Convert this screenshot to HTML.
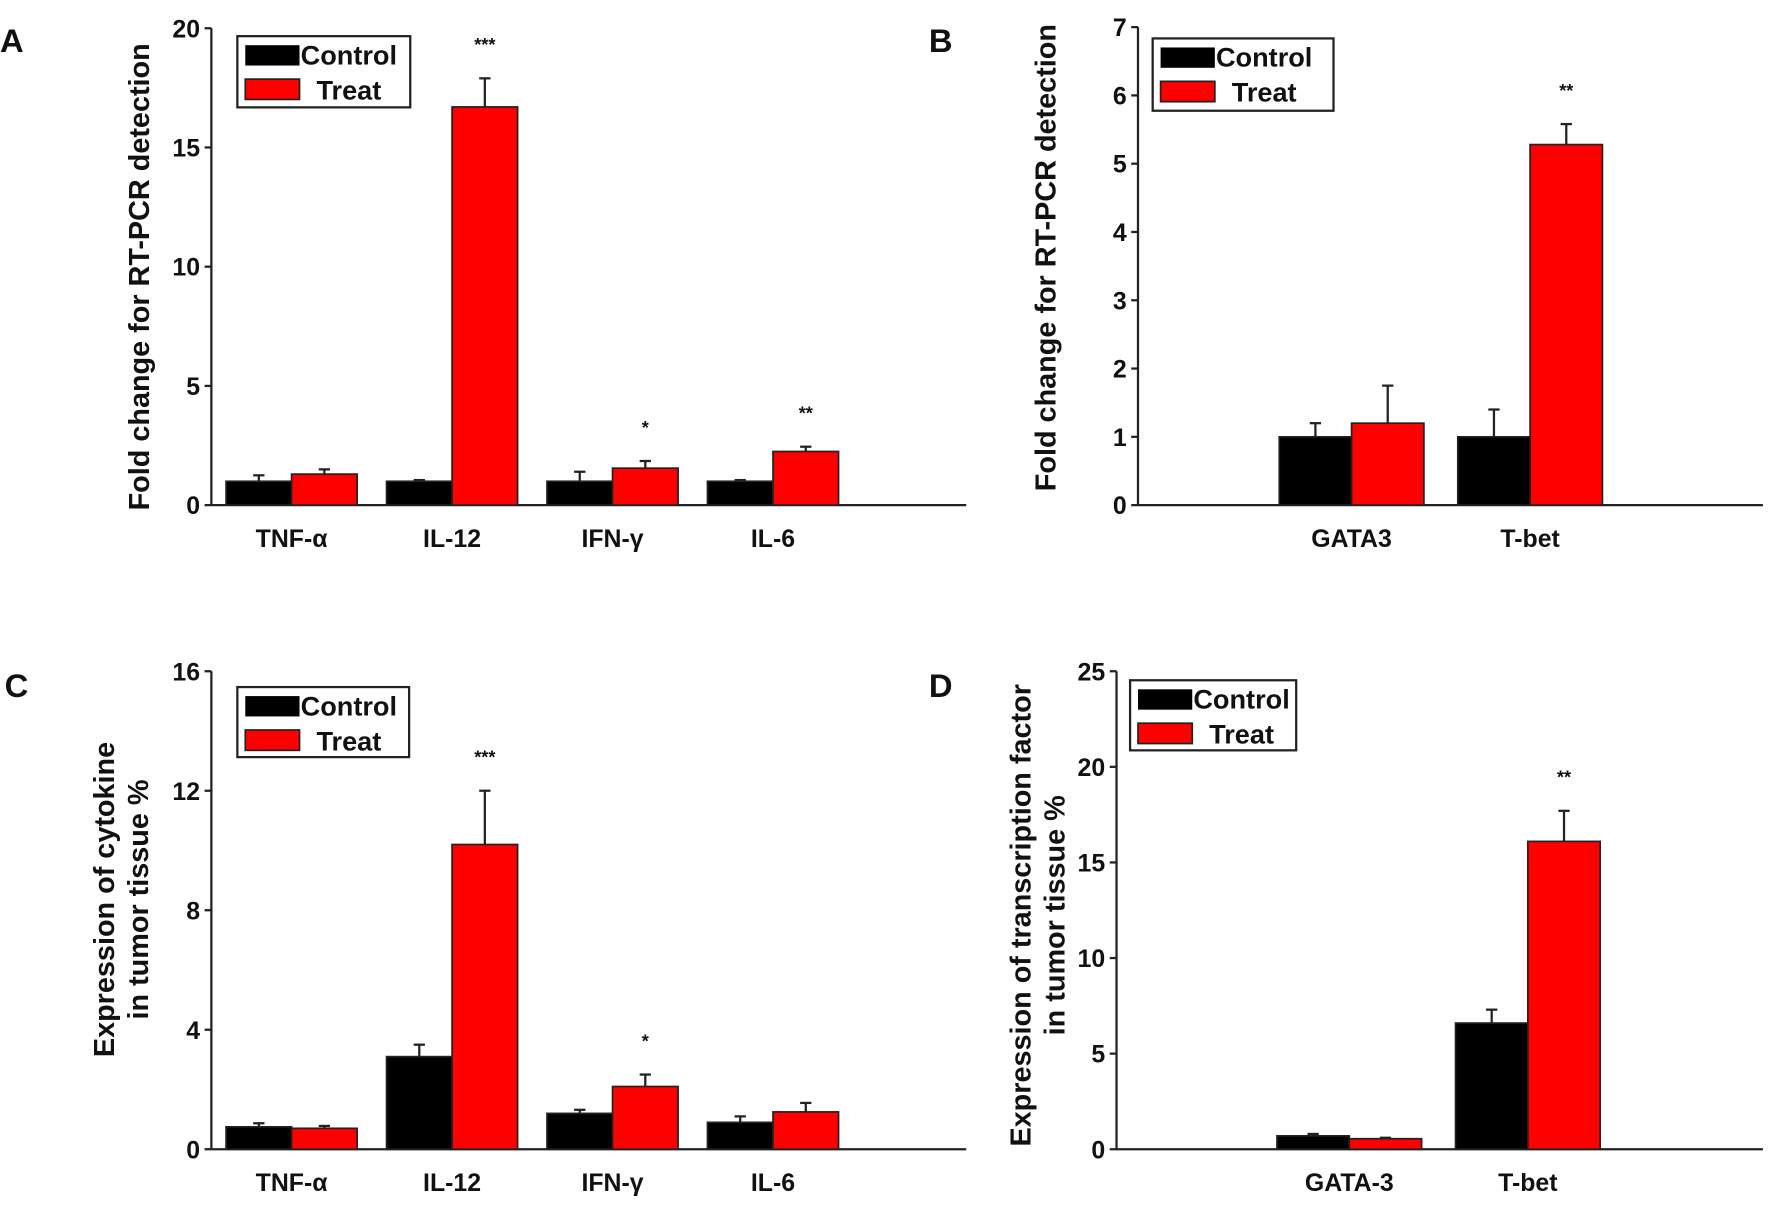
<!DOCTYPE html>
<html><head><meta charset="utf-8"><style>
html,body{margin:0;padding:0;background:#fff;}
svg{display:block;}
text{font-family:"Liberation Sans",Arial,sans-serif;font-weight:bold;fill:#111;}
</style></head><body>
<svg id="fig" width="1772" height="1208" viewBox="0 0 1568 1069" xmlns="http://www.w3.org/2000/svg"></svg>
<script>
// Panel A
const catsA = ["TNF-α","IL-12","IFN-γ","IL-6"];
const ctrlA = [1.0,1.0,1.0,1.0];
const ctrlErrA = [0.25,0.05,0.4,0.05];
const treatA = [1.3,16.7,1.55,2.25];
const treatErrA = [0.2,1.2,0.3,0.2];
const sigA = ["","***","*","**"];
const ticksA = [0,5,10,15,20];
// Panel B
const catsB = ["GATA3","T-bet"];
const ctrlB = [1.0,1.0];
const ctrlErrB = [0.2,0.4];
const treatB = [1.2,5.28];
const treatErrB = [0.55,0.3];
const sigB = ["","**"];
const ticksB = [0,1,2,3,4,5,6,7];
// Panel C
const catsC = ["TNF-α","IL-12","IFN-γ","IL-6"];
const ctrlC = [0.75,3.1,1.2,0.9];
const ctrlErrC = [0.12,0.4,0.12,0.2];
const treatC = [0.7,10.2,2.1,1.25];
const treatErrC = [0.08,1.8,0.4,0.3];
const sigC = ["","***","*",""];
const ticksC = [0,4,8,12,16];
// Panel D
const catsD = ["GATA-3","T-bet"];
const ctrlD = [0.7,6.6];
const ctrlErrD = [0.1,0.7];
const treatD = [0.55,16.1];
const treatErrD = [0.05,1.6];
const sigD = ["","**"];
const ticksD = [0,5,10,15,20,25];

const NS="http://www.w3.org/2000/svg";
const svg=document.getElementById('fig');
function mk(tag,attrs,parent,txt){const e=document.createElementNS(NS,tag);for(const k in attrs)e.setAttribute(k,attrs[k]);if(txt!==undefined)e.textContent=txt;(parent||svg).appendChild(e);return e;}

function panel(p){
  const g=mk('g',{});
  
  
  const ymax=p.ticks[p.ticks.length-1];
  const y=v=>p.y0-(v/ymax)*(p.y0-p.yTop);
  const lt=mk('text',{x:p.letter[0],y:p.letter[1],'font-size':29},g,p.id);
  
  
  const ya=mk('line',{x1:p.ax,y1:p.yTop,x2:p.ax,y2:p.y0,stroke:'#222','stroke-width':2},g);
  
  
  const xa=mk('line',{x1:p.ax,y1:p.y0,x2:p.xEnd,y2:p.y0,stroke:'#222','stroke-width':2},g);
  
  
  p.ticks.forEach(t=>{
    const tk=mk('line',{x1:p.ax-6,y1:y(t),x2:p.ax,y2:y(t),stroke:'#222','stroke-width':2},g);
    
    
    const tl=mk('text',{x:p.ax-10,y:y(t)+8,'font-size':22,'text-anchor':'end'},g,String(t));
    
    
  });
  p.cats.forEach((c,i)=>{
    const xc=p.x0+i*p.step;
    [[p.ctrl,p.ctrlErr,'#000',xc],[p.treat,p.treatErr,'#ff0000',xc+p.bw]].forEach(([vals,errs,col,bx],k)=>{
      const v=vals[i],e=errs[i];
      const ex=bx+p.bw/2;
      const el=mk('line',{x1:ex,y1:y(v),x2:ex,y2:y(v+e),stroke:'#222','stroke-width':2},g);
      
      
      const ec=mk('line',{x1:ex-5,y1:y(v+e),x2:ex+5,y2:y(v+e),stroke:'#222','stroke-width':2},g);
      
      
      const r=mk('rect',{x:bx,y:y(v),width:p.bw,height:p.y0-y(v),fill:col,stroke:'#222','stroke-width':1.5},g);
      
      
    });
    if(p.sig[i]){
      const top=p.treat[i]+p.treatErr[i];
      const s=mk('text',{x:xc+p.bw*1.5,y:y(top)-24,'font-size':16,'text-anchor':'middle',fill:'#333'},g,p.sig[i]);
      
      
    }
    const cl=mk('text',{x:xc+p.bw,y:p.y0+37,'font-size':22,'text-anchor':'middle'},g,c);
    
    
  });
  const tt=mk('text',{transform:`translate(${p.titleX},${p.titleY}) rotate(-90)`,'font-size':25.5,'text-anchor':'middle'},g);
  
  
  p.title.forEach((line,j)=>{mk('tspan',{x:0,y:j*30},tt,line);});
  const [lx,ly,lw,lh]=p.legend;
  const lg=mk('g',{},g);
  
  
  mk('rect',{x:lx,y:ly,width:lw,height:lh,fill:'#fff',stroke:'#222','stroke-width':2},lg);
  const e1=mk('rect',{x:lx+7,y:ly+8,width:48,height:18,fill:'#000'},lg);
  
  
  const e2=mk('rect',{x:lx+7,y:ly+38,width:48,height:18,fill:'#ff0000',stroke:'#222','stroke-width':1.5},lg);
  
  
  const t1=mk('text',{x:lx+56,y:ly+25,'font-size':24},lg,'Control');
  
  
  const t2=mk('text',{x:lx+70,y:ly+56,'font-size':24},lg,'Treat');
  
  
}

panel({id:'A',letter:[0,46],ax:187,xEnd:855,y0:447,yTop:25,x0:200,step:142,bw:58,
  cats:catsA,ctrl:ctrlA,ctrlErr:ctrlErrA,treat:treatA,treatErr:treatErrA,sig:sigA,ticks:ticksA,
  title:['Fold change for RT-PCR detection'],titleX:132,titleY:245,legend:[210,32,153,63]});
panel({id:'B',letter:[822,46],ax:1007,xEnd:1560,y0:447,yTop:24,x0:1132,step:158,bw:64,
  cats:catsB,ctrl:ctrlB,ctrlErr:ctrlErrB,treat:treatB,treatErr:treatErrB,sig:sigB,ticks:ticksB,
  title:['Fold change for RT-PCR detection'],titleX:934,titleY:228,legend:[1020,34,160,64]});
panel({id:'C',letter:[4,617],ax:187,xEnd:855,y0:1017,yTop:594,x0:200,step:142,bw:58,
  cats:catsC,ctrl:ctrlC,ctrlErr:ctrlErrC,treat:treatC,treatErr:treatErrC,sig:sigC,ticks:ticksC,
  title:['Expression of cytokine','in tumor tissue %'],titleX:101,titleY:796,legend:[210,608,152,62]});
panel({id:'D',letter:[822,617],ax:988,xEnd:1560,y0:1017,yTop:594,x0:1130,step:158,bw:64,
  cats:catsD,ctrl:ctrlD,ctrlErr:ctrlErrD,treat:treatD,treatErr:treatErrD,sig:sigD,ticks:ticksD,
  title:['Expression of transcription factor','in tumor tissue %'],titleX:912,titleY:810,legend:[1000,602,147,62]});
</script>
</body></html>
